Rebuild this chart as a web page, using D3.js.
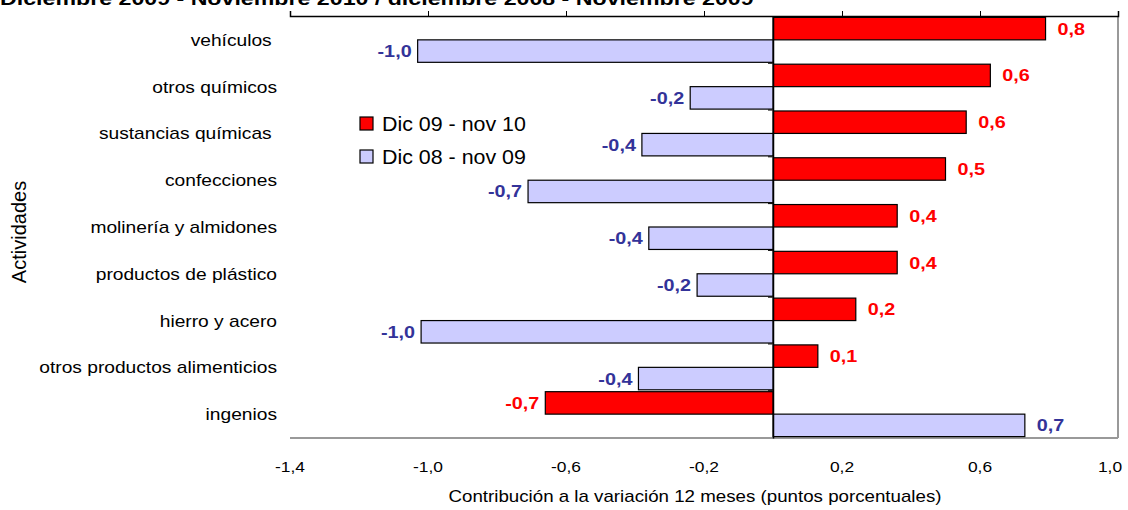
<!DOCTYPE html>
<html><head><meta charset="utf-8">
<script src="https://cdn.jsdelivr.net/npm/d3@7"></script>
<style>
body{margin:0;background:#fff;}
text{font-family:Arial,"Liberation Sans",sans-serif;}
</style></head>
<body><svg id="c" width="1128" height="510"></svg>
<script>
const categories = ["vehículos ","otros químicos","sustancias químicas ","confecciones","molinería y almidones","productos de plástico","hierro y acero","otros productos alimenticios","ingenios"];
const seriesNames = ["Dic 09 - nov 10","Dic 08 - nov 09"];
const values2010 = [0.79,0.63,0.56,0.50,0.36,0.36,0.24,0.13,-0.66];
const values2009 = [-1.03,-0.24,-0.38,-0.71,-0.36,-0.22,-1.02,-0.39,0.73];
const labels2010 = ["0,8","0,6","0,6","0,5","0,4","0,4","0,2","0,1","-0,7"];
const labels2009 = ["-1,0","-0,2","-0,4","-0,7","-0,4","-0,2","-1,0","-0,4","0,7"];
const tickValues = [-1.4,-1.0,-0.6,-0.2,0.2,0.6,1.0];
const tickLabels = ["-1,4","-1,0","-0,6","-0,2","0,2","0,6","1,0"];
const title = "Diciembre 2009 - Noviembre 2010 / diciembre 2008 - Noviembre 2009";
const xTitle = "Contribución a la variación 12 meses (puntos porcentuales)";
const yTitle = "Actividades";

const svg = d3.select("#c");
const L=290,R=1118,T=16,B=438;
const x = d3.scaleLinear().domain([-1.4,1.0]).range([L,R]);
const y = d3.scaleBand().domain(categories).range([T,B]).paddingInner(0.04).paddingOuter(0.03);
const colors = ["#ff0000","#ccccff"];
const labelColors = ["#ff0000","#333399"];
const series = [values2010, values2009];
const sLabels = [labels2010, labels2009];
const SX = 1.2; // horizontal stretch of the original's text

function tx(sel, fx, fy, sx){
  return sel.attr("transform",(d,i)=>`translate(${typeof fx==="function"?fx(d,i):fx},${typeof fy==="function"?fy(d,i):fy}) scale(${sx},1)`);
}

// title
tx(svg.append("text"),0,4.5,1.22).attr("font-size",19).attr("font-weight","bold").text(title);

// plot border (right and bottom)
svg.append("line").attr("x1",R).attr("x2",R).attr("y1",T).attr("y2",B).attr("stroke","#999").attr("stroke-width",2);
svg.append("line").attr("x1",L).attr("x2",R).attr("y1",B).attr("y2",B).attr("stroke","#999").attr("stroke-width",2);

// top value axis with ticks upward
const ax = d3.axisTop(x).tickValues(tickValues).tickSize(5).tickFormat("");
const gAx = svg.append("g").attr("transform",`translate(0,${T})`).call(ax);
gAx.select(".domain").attr("stroke","#000").attr("stroke-width",1.5);
gAx.selectAll(".tick line").attr("stroke","#000");

// tick labels at bottom
tx(svg.append("g").selectAll("text").data(tickValues).join("text"), d=>Math.min(x(d),1110), 472, SX)
  .attr("text-anchor","middle").attr("font-size",14.5)
  .text((d,i)=>tickLabels[i]);

// bars
const bh = y.bandwidth()/2;
series.forEach((vals,s)=>{
  svg.append("g").selectAll("rect").data(vals).join("rect")
    .attr("x",d=>x(Math.min(0,d))).attr("width",d=>Math.abs(x(d)-x(0)))
    .attr("y",(d,i)=>y(categories[i])+s*bh).attr("height",bh)
    .attr("fill",colors[s]).attr("stroke","#000").attr("stroke-width",1.2);
  tx(svg.append("g").selectAll("text").data(vals).join("text"),
      d=>d>=0?x(d)+12:x(d)-6,
      (d,i)=>y(categories[i])+s*bh+bh/2+6, SX)
    .attr("text-anchor",d=>d>=0?"start":"end")
    .attr("font-size",16.5).attr("font-weight","bold").attr("fill",labelColors[s])
    .text((d,i)=>sLabels[s][i]);
});

// category axis at zero
const cax = d3.axisLeft(y).tickSize(0).tickFormat("");
svg.append("g").attr("transform",`translate(${x(0)},0)`).call(cax).select(".domain").attr("stroke","#000").attr("stroke-width",1.5);
// small ticks between categories
svg.append("g").selectAll("line").data(categories.slice(1)).join("line")
  .attr("x1",x(0)-5).attr("x2",x(0)).attr("y1",d=>y(d)-y.step()*y.paddingInner()/2).attr("y2",d=>y(d)-y.step()*y.paddingInner()/2)
  .attr("stroke","#000");

// category labels
tx(svg.append("g").selectAll("text").data(categories).join("text"), 277, d=>y(d)+y.bandwidth()/2+6, SX)
  .attr("text-anchor","end")
  .attr("font-size",16).attr("xml:space","preserve").style("white-space","pre").text(d=>d);

// axis titles
tx(svg.append("text"),(L+R)/2 - 9,502,1.17).attr("text-anchor","middle").attr("font-size",16).text(xTitle);
svg.append("text").attr("transform","translate(26,232) rotate(-90)").attr("text-anchor","middle").attr("font-size",20).text(yTitle);

// legend
const lg = svg.append("g");
seriesNames.forEach((n,i)=>{
  lg.append("rect").attr("x",360).attr("y",117+i*33).attr("width",13).attr("height",13).attr("fill",colors[i]).attr("stroke","#000").attr("stroke-width",1.2);
  tx(lg.append("text"),382,131+i*33,1.07).attr("font-size",20).text(n);
});
</script></body></html>
